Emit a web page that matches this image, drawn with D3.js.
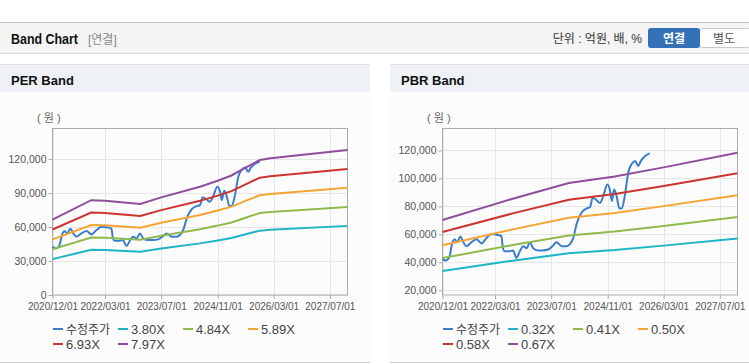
<!DOCTYPE html>
<html>
<head>
<meta charset="utf-8">
<script src="https://cdn.jsdelivr.net/npm/d3@7"></script>
<style>
  body { margin: 0; background: #fff; }
  svg text { font-family: "Liberation Sans", Arial, "Noto Sans CJK KR", sans-serif; }
</style>
</head>
<body>
<div id="chart"></div>
<script>
// ---- data ----
const tickDates = ["2020/12/01", "2022/03/01", "2023/07/01", "2024/11/01", "2026/03/01", "2027/07/01"];
const xStart = "2020/12/01", xEnd = "2027/12/01";

// 수정주가 (adjusted price), same series in both charts
const priceDates = ["2020/12/01","2020/12/29","2021/01/27","2021/02/26","2021/03/16","2021/04/06","2021/05/05","2021/05/27",
  "2021/06/26","2021/08/09","2021/09/22","2021/11/04","2021/12/17","2022/01/30","2022/03/13","2022/04/25","2022/05/09",
  "2022/05/24","2022/07/06","2022/08/04","2022/09/03","2022/10/02","2022/10/31","2022/11/30","2022/12/28","2023/01/26",
  "2023/03/09","2023/04/22","2023/06/04","2023/07/17","2023/08/16","2023/09/29","2023/11/11","2023/12/10","2024/01/08",
  "2024/02/07","2024/03/20","2024/05/03","2024/06/01","2024/06/24","2024/07/28","2024/08/26","2024/09/24","2024/10/29",
  "2024/11/22","2024/12/07","2024/12/27","2025/01/19","2025/02/11","2025/03/02","2025/03/31","2025/04/29","2025/05/28",
  "2025/06/26","2025/07/25","2025/08/15","2025/09/07","2025/09/25","2025/11/01"];
const priceValues = [42600,41200,43200,54400,56500,54400,58500,55000,
  51500,54400,56500,53500,57400,60300,59700,58800,50000,
  47900,47900,48500,43200,47900,51500,50000,54400,50000,
  48500,48500,49100,52000,54400,51500,51500,53000,57400,
  67700,75600,78500,79400,86200,84400,82400,87400,95600,
  91200,83800,92100,86800,78500,78500,88200,104400,110300,
  112500,108800,112500,114700,116200,117900];

// PER band
const perDates = ["2020/12/01","2021/11/01","2022/03/01","2023/01/01","2023/07/01","2024/06/01",
  "2024/11/01","2025/03/01","2025/07/01","2025/11/01","2026/02/01","2027/12/01"];
const perLabels = ["3.80X", "4.84X", "5.89X", "6.93X", "7.97X"];
const per380 = [31690,39900,39670,38290,41100,45580,48110,50310,53580,56810,57530,61030];
const per484 = [40370,50820,50530,48760,52340,58060,61270,64080,68240,72360,73280,77730];
const per589 = [49120,61850,61490,59340,63700,70650,74570,77980,83050,88060,89170,94590];
const per693 = [57800,72770,72350,69820,74950,83130,87730,91750,97710,103600,104920,111300];
const per797 = [66470,83690,83210,80300,86200,95600,100900,105520,112380,119150,120670,128000];
const perTicks = [0, 30000, 60000, 90000, 120000];

// PBR band
const pbrDates = ["2020/12/01","2022/08/01","2023/12/01","2025/01/01","2026/03/01","2027/12/01"];
const pbrLabels = ["0.32X", "0.41X", "0.50X", "0.58X", "0.67X"];
const pbr032 = [33830,41150,46540,48760,51920,56950];
const pbr041 = [43010,52320,59160,61990,66010,72410];
const pbr050 = [52240,63540,71860,75300,80180,87950];
const pbr058 = [61630,74970,84780,88830,94590,103750];
const pbr067 = [70300,85500,96700,101300,107900,118300];
const pbrTicks = [20000, 40000, 60000, 80000, 100000, 120000];

const colors = ["#3b7dcb", "#1eb4c6", "#8fba4e", "#f6a532", "#cd3331", "#8e4e9c"];

// ---- page ----
const W = 749, H = 364;
const parse = d3.timeParse("%Y/%m/%d");
const svg = d3.select("#chart").append("svg").attr("width", W).attr("height", H);

// top header bar
svg.append("rect").attr("x", 0).attr("y", 22).attr("width", W).attr("height", 31).attr("fill", "#f4f4f4");
svg.append("line").attr("x1", 0).attr("x2", W).attr("y1", 22.5).attr("y2", 22.5).attr("stroke", "#c4c4c4");
svg.append("line").attr("x1", 0).attr("x2", W).attr("y1", 53.5).attr("y2", 53.5).attr("stroke", "#d8d8d8");
svg.append("text").attr("x", 11).attr("y", 44).text("Band Chart")
  .attr("textLength", 67).attr("lengthAdjust", "spacingAndGlyphs")
  .style("font-size", "14px").style("font-weight", "bold").attr("fill", "#111");
svg.append("text").attr("x", 88).attr("y", 44).text("[연결]")
  .style("font-size", "12px").attr("fill", "#888");
svg.append("text").attr("x", 642).attr("y", 43).attr("text-anchor", "end").text("단위 : 억원, 배, %")
  .style("font-size", "12px").attr("fill", "#333");
svg.append("rect").attr("x", 699.5).attr("y", 28.5).attr("width", 52).attr("height", 19).attr("rx", 3)
  .attr("fill", "#fff").attr("stroke", "#c8c8c8");
svg.append("rect").attr("x", 648).attr("y", 28).attr("width", 52).attr("height", 20).attr("rx", 3)
  .attr("fill", "#3472b8");
svg.append("text").attr("x", 674).attr("y", 42.5).attr("text-anchor", "middle").text("연결")
  .style("font-size", "12px").style("font-weight", "bold").attr("fill", "#fff");
svg.append("text").attr("x", 724).attr("y", 42.5).attr("text-anchor", "middle").text("별도")
  .style("font-size", "12px").attr("fill", "#555");

function drawPanel(px, pw, title, yDomain, yTicks, bandDates, bandSeries, labels) {
  const g = svg.append("g").attr("transform", `translate(${px},0)`);
  g.append("rect").attr("x", 0).attr("y", 64).attr("width", pw).attr("height", 299).attr("fill", "#fcfcfc");
  g.append("rect").attr("x", 0).attr("y", 64).attr("width", pw).attr("height", 28).attr("fill", "#eef1f6");
  g.append("line").attr("x1", 0).attr("x2", pw).attr("y1", 64.5).attr("y2", 64.5).attr("stroke", "#dcdcdc");
  g.append("line").attr("x1", 0).attr("x2", pw).attr("y1", 362.5).attr("y2", 362.5).attr("stroke", "#d0d0d0");
  g.append("text").attr("x", 11).attr("y", 85).text(title)
    .style("font-size", "13px").style("font-weight", "bold").attr("fill", "#111");
  g.append("text").attr("x", 37).attr("y", 122).text("( 원 )")
    .style("font-size", "11px").attr("fill", "#666");

  const left = 52.5, right = 347.5, top = 128.5, bottom = 295;
  const x = d3.scaleTime().domain([parse(xStart), parse(xEnd)]).range([left, right]);
  const y = d3.scaleLinear().domain(yDomain).range([bottom, top]);
  const tv = tickDates.map(parse);

  // grid
  g.append("g").selectAll("line").data(yTicks).join("line")
    .attr("x1", left).attr("x2", right)
    .attr("y1", d => Math.round(y(d)) + 0.5).attr("y2", d => Math.round(y(d)) + 0.5)
    .attr("stroke", "#e6e6e6");
  g.append("g").selectAll("line").data(tv).join("line")
    .attr("x1", d => Math.round(x(d)) + 0.5).attr("x2", d => Math.round(x(d)) + 0.5)
    .attr("y1", top).attr("y2", bottom)
    .attr("stroke", "#e6e6e6");

  // axes
  const yAxis = g.append("g").attr("transform", `translate(${left},0)`)
    .call(d3.axisLeft(y).tickValues(yTicks).tickSize(4).tickSizeOuter(0).tickFormat(d3.format(",")));
  const xAxis = g.append("g").attr("transform", `translate(0,${bottom})`)
    .call(d3.axisBottom(x).tickValues(tv).tickSize(4).tickSizeOuter(0).tickFormat(d3.timeFormat("%Y/%m/%d")));
  [yAxis, xAxis].forEach(a => {
    a.select(".domain").remove();
    a.selectAll(".tick line").attr("stroke", "#aaa");
    a.selectAll(".tick text").attr("fill", "#555").style("font-size", "10.5px")
      .style("font-family", "'Liberation Sans', Arial, sans-serif");
  });
  yAxis.selectAll(".tick text").attr("x", -6);
  xAxis.selectAll(".tick text").attr("y", 8).style("font-size", "10px");

  g.append("rect").attr("x", left).attr("y", top).attr("width", right - left).attr("height", bottom - top)
    .attr("fill", "none").attr("stroke", "#acacac");

  const plot = g.append("g");
  const priceLine = d3.line().x(d => x(d.date)).y(d => y(d.value)).curve(d3.curveMonotoneX);
  const bandLine = d3.line().x(d => x(d.date)).y(d => y(d.value));
  const price = priceDates.map((d, i) => ({ date: parse(d), value: priceValues[i] }));
  plot.append("path").datum(price).attr("d", priceLine)
    .attr("fill", "none").attr("stroke", colors[0]).attr("stroke-width", 2);
  bandSeries.forEach((vals, k) => {
    const pts = bandDates.map((d, i) => ({ date: parse(d), value: vals[i] }));
    plot.append("path").datum(pts).attr("d", bandLine)
      .attr("fill", "none").attr("stroke", colors[k + 1]).attr("stroke-width", 2);
  });

  // legend
  const names = ["수정주가"].concat(labels);
  const lg = g.append("g");
  names.forEach((n, i) => {
    const col = i < 4 ? i : i - 4, row = i < 4 ? 0 : 1;
    const lx = 53 + col * 65, ly = 329 + row * 15;
    lg.append("line").attr("x1", lx).attr("x2", lx + 10).attr("y1", ly).attr("y2", ly)
      .attr("stroke", colors[i]).attr("stroke-width", 2);
    lg.append("text").attr("x", lx + 13).attr("y", ly + 4.5).text(n)
      .style("font-size", i === 0 ? "12px" : "13px").attr("fill", "#444");
  });
}

drawPanel(0, 370, "PER Band", [0, 147000], perTicks, perDates,
  [per380, per484, per589, per693, per797], perLabels);
drawPanel(390, 359, "PBR Band", [16600, 135700], pbrTicks, pbrDates,
  [pbr032, pbr041, pbr050, pbr058, pbr067], pbrLabels);
</script>
</body>
</html>
